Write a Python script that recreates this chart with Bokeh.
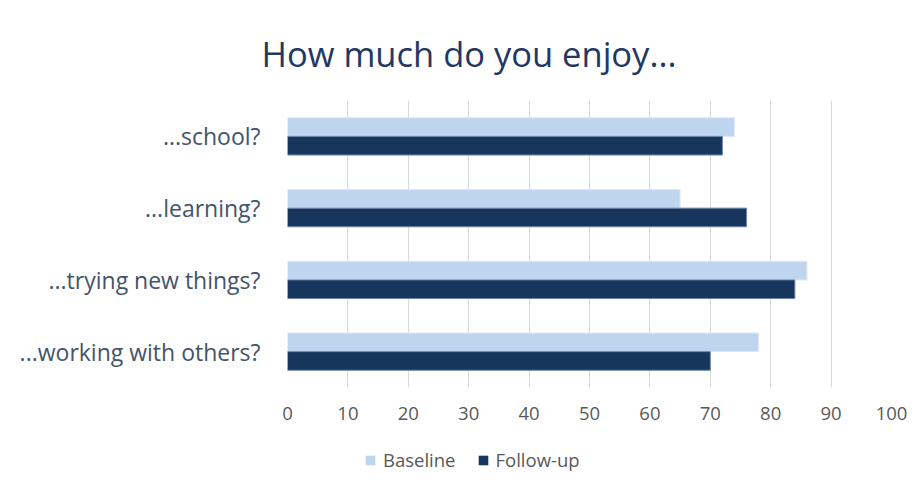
from bokeh.plotting import figure
from bokeh.layouts import column
from bokeh.models import FactorRange, Legend, LegendItem, ColumnDataSource
from bokeh.transform import dodge
from bokeh.embed import file_html
from bokeh.resources import INLINE

categories = ["...school?", "...learning?", "...trying new things?", "...working with others?"]
baseline = [74, 65, 86, 78]
followup = [72, 76, 84, 70]
x_ticks = [0, 10, 20, 30, 40, 50, 60, 70, 80, 90, 100]
series_names = ["Baseline", "Follow-up"]

src = ColumnDataSource(dict(cat=categories, base=baseline, fol=followup))

FONT = "Open Sans"
BASE_C = "#bfd4ee"
FOL_C = "#17365d"

yr = FactorRange(factors=list(reversed(categories)))
yr.range_padding = 0
p = figure(frame_width=604, frame_height=287, output_backend="svg", toolbar_location=None,
           y_range=yr, x_range=(0, 100),
           min_border_left=287, min_border_right=28, min_border_top=100, min_border_bottom=40,
           title="How much do you enjoy...")
p.title.text_font = FONT
p.title.text_font_size = "34.5px"
p.title.text_font_style = "normal"
p.title.text_color = "#1f3864"
p.title.align = "left"
p.title.vertical_align = "middle"
p.title.offset = -26
p.title.standoff = 46

r1 = p.hbar(y=dodge("cat", 0.13, range=p.y_range), right="base", left=0, height=0.26,
            source=src, fill_color=BASE_C, line_color="#dfe9f7", line_width=1)
r2 = p.hbar(y=dodge("cat", -0.13, range=p.y_range), right="fol", left=0, height=0.26,
            source=src, fill_color=FOL_C, line_color="#6f86a8", line_width=1)

p.outline_line_color = None
p.background_fill_color = "white"
p.border_fill_color = "white"

p.ygrid.grid_line_color = None
p.xgrid.grid_line_color = "#d9d9d9"
p.xgrid.grid_line_width = 1
p.xaxis.ticker = x_ticks
p.xaxis.axis_line_color = None
p.xaxis.major_tick_line_color = None
p.xaxis.minor_tick_line_color = None
p.xaxis.major_label_text_font = FONT
p.xaxis.major_label_text_font_size = "18.5px"
p.xaxis.major_label_text_color = "#595959"
p.xaxis.major_label_standoff = 13

p.yaxis.axis_line_color = None
p.yaxis.major_tick_line_color = None
p.yaxis.minor_tick_line_color = None
p.yaxis.major_label_text_font = FONT
p.yaxis.major_label_text_font_size = "23px"
p.yaxis.major_label_text_color = "#44546a"
p.yaxis.major_label_standoff = 21

# legend strip below the chart (frame aligned with the chart's frame)
p2 = figure(width=919, height=60, output_backend="svg", toolbar_location=None,
            x_range=(0, 100), y_range=FactorRange(factors=list(reversed(categories))),
            x_axis_type=None, y_axis_type=None, min_border=0)
p2.outline_line_color = None
p2.grid.visible = False
l1 = p2.hbar(y="cat", right="base", left=0, height=0.26, source=src,
             fill_color=BASE_C, line_color=None, visible=False)
l2 = p2.hbar(y="cat", right="fol", left=0, height=0.26, source=src,
             fill_color=FOL_C, line_color=None, visible=False)
legend = Legend(items=[LegendItem(label=series_names[0], renderers=[l1]),
                       LegendItem(label=series_names[1], renderers=[l2])],
                orientation="horizontal", location=(77, 15),
                label_text_font=FONT, label_text_font_size="18.5px", label_text_color="#595959",
                glyph_width=12, glyph_height=12, spacing=21, label_standoff=7,
                padding=5, margin=0, inactive_fill_alpha=0,
                border_line_color=None, background_fill_alpha=0)
p2.add_layout(legend, "center")

layout = column(p, p2, spacing=0)
open("out.html", "w").write(file_html(layout, INLINE))
